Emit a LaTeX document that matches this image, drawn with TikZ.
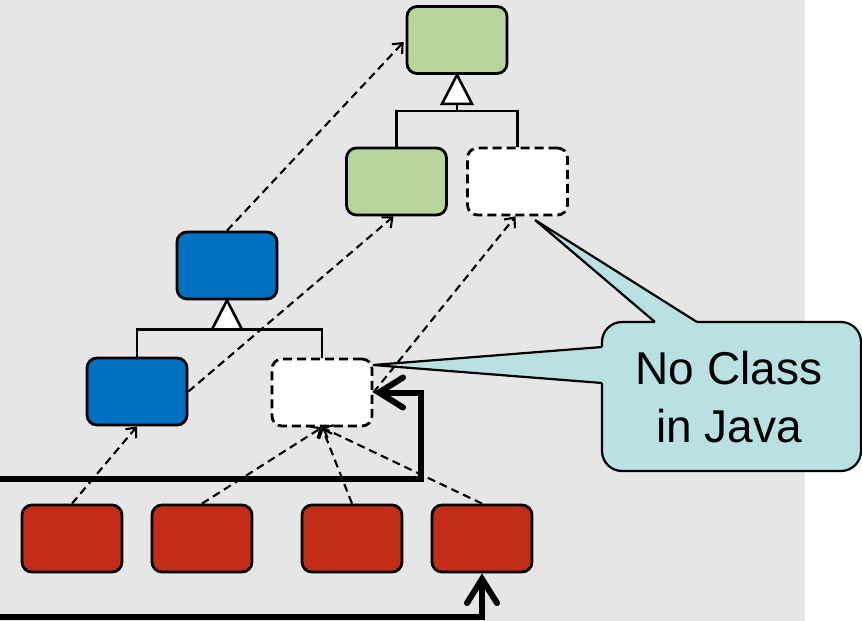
\documentclass[tikz,border=0pt]{standalone}
\usepackage{fontspec}
\setmainfont{Liberation Sans}
\usetikzlibrary{arrows.meta,calc}
\definecolor{bggray}{HTML}{E6E6E6}
\definecolor{grn}{HTML}{B9D49A}
\definecolor{blu}{HTML}{0070C0}
\definecolor{rd}{HTML}{C32D17}
\definecolor{calloutfill}{HTML}{B9E0E3}
\tikzset{
  cls/.style={draw, line width=2.8pt, rounded corners=10pt, minimum width=100pt, minimum height=67pt, inner sep=0pt},
  virt/.style={cls, fill=white, dash pattern=on 9pt off 5pt},
  tree/.style={line width=2.6pt},
  gen/.style={line width=2.6pt, fill=white, line join=miter},
  dep/.style={line width=2.1pt, dash pattern=on 8pt off 5pt, -{Straight Barb[length=8pt,width=14pt]}},
  thick arrow/.style={line width=6pt, line join=miter, -{Straight Barb[length=24pt,width=30pt,line cap=round]}},
  calloutbox/.style={draw, line width=2.2pt, fill=calloutfill, rounded corners=20pt, minimum width=259pt, minimum height=149pt, inner sep=0pt}
}
\begin{document}
\begin{tikzpicture}[x=1pt,y=-1pt]
\useasboundingbox (0,0) rectangle (862,621);
\fill[bggray] (0,0) rectangle (805,621);

% class boxes
\node[cls, fill=grn] (G1) at (457,40) {};
\node[cls, fill=grn] (G2) at (396.5,181.5) {};
\node[virt] (W1) at (517.5,181.5) {};
\node[cls, fill=blu] (B1) at (227,265.5) {};
\node[cls, fill=blu] (B2) at (137,391.5) {};
\node[virt] (W2) at (322,392.5) {};
\node[cls, fill=rd] (R1) at (72,538.5) {};
\node[cls, fill=rd] (R2) at (202,538.5) {};
\node[cls, fill=rd] (R3) at (352,538.5) {};
\node[cls, fill=rd] (R4) at (482,538.5) {};

% generalization trees
\coordinate (j1) at ($(G1.south)+(0,36)$);
\draw[tree] (j1) -| (G2.north);
\draw[tree] (j1) -| (W1.north);
\draw[tree] (j1) -- ++(0,-8);
\draw[gen] (G1.south) -- ++(15,29) -- ++(-30,0) -- cycle;

\coordinate (j2) at ($(B1.south)+(0,29)$);
\draw[tree] (j2) -| (B2.north);
\draw[tree] (j2) -| (W2.north);
\draw[gen] (B1.south) -- ++(15,29) -- ++(-30,0) -- cycle;

% dependency arrows
\draw[dep] (B1.north) -- ($(G1.west)+(-2,2)$);
\draw[dep] (B2.east) -- ($(G2.south)+(-3,0)$);
\draw[dep] (W2.east) -- ($(W1.south)+(-2,0)$);
\draw[dep] (R1.north) -- (B2.south);
\draw[dep] (R2.north) -- (W2.south);
\draw[dep] (R3.north) -- (W2.south);
\draw[dep] (R4.north) -- (W2.south);

% thick arrows
\coordinate (in1) at (0,479);
\coordinate (in2) at (0,617);
\draw[thick arrow] (in1) -- (421,479) -- (421,392.5) -- (W2.east);
\draw[thick arrow] (in2) -| (R4.south);

% callout
\node[calloutbox] (note) at (731.5,396.5) {};
\coordinate (tipA) at (373,365);
\coordinate (tipB) at (535,220);
\fill[calloutfill] (tipA) -- (602,347) -- (605,347) -- (605,383) -- (602,383) -- cycle;
\draw[line width=2.2pt, line join=miter] (602,347) -- (tipA) -- (602,383);
\fill[calloutfill] (tipB) -- (655,322) -- (655,325) -- (697,325) -- (697,322) -- cycle;
\draw[line width=2.2pt, line join=miter] (655,322) -- (tipB) -- (697,322);
\node[align=center, inner sep=0pt, font=\fontsize{46pt}{58pt}\selectfont] (txt) at (729,397.5) {No Class\\in Java};
\end{tikzpicture}
\end{document}
